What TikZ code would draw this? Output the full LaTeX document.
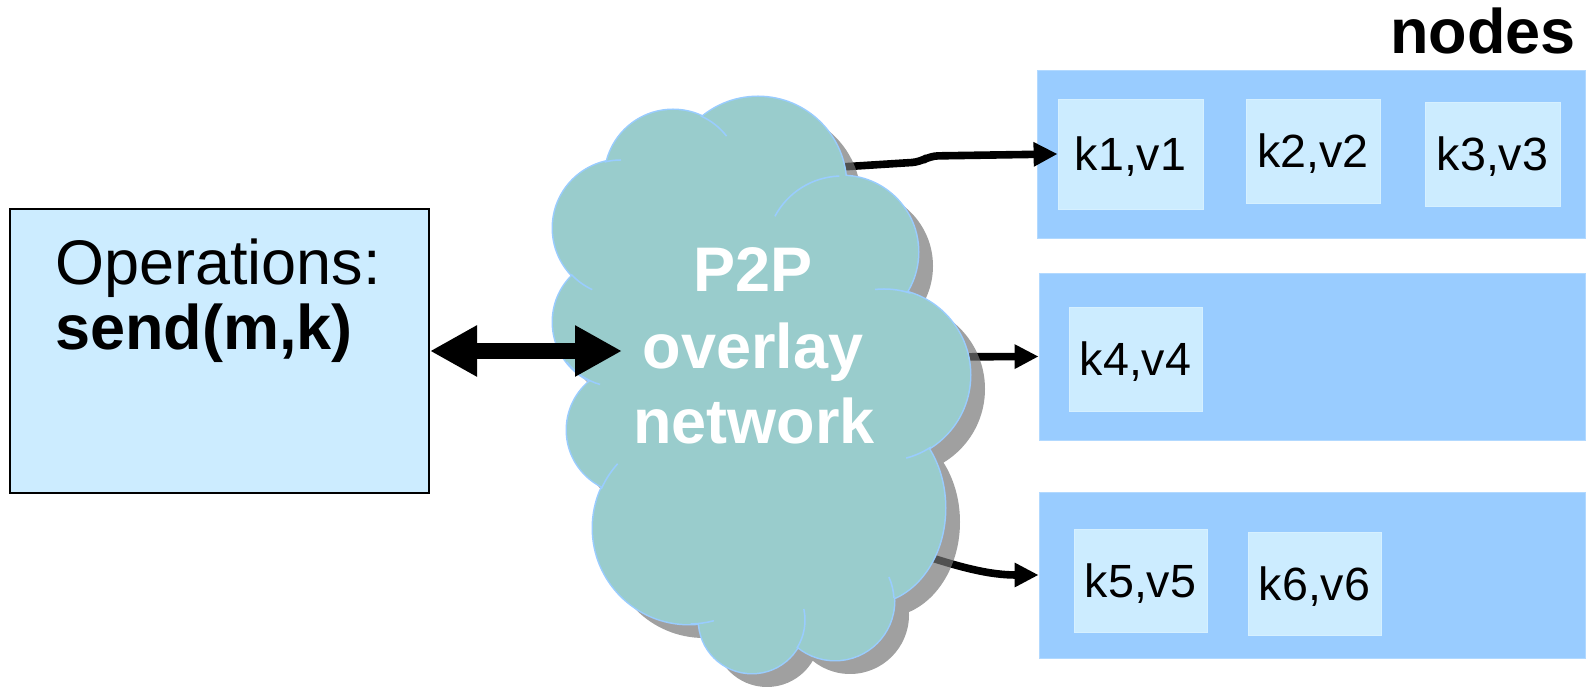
\documentclass[tikz,border=0pt]{standalone}
\usepackage{fontspec}
\setmainfont{Liberation Sans}
\usetikzlibrary{arrows.meta}

\definecolor{nodeblue}{HTML}{99CCFF}
\definecolor{paleblue}{HTML}{CCECFF}
\definecolor{cloudfill}{HTML}{99CCCC}
\definecolor{cloudline}{HTML}{99CCFF}

% cloud lobes: centre x / centre y / x radius / y radius
\def\cloudlobes{758/185/88/88, 673/178/68/68, 621/228/68/68, 618/322/65/65,
  630/430/63/63, 689/528/96/96, 752/620/53/53, 835/601/59/59,
  870/508/75/95, 884/375/86/86, 842/252/76/76,
  750/380/150/150, 775/510/90/90}

\tikzset{
  bigfont/.style={font=\fontsize{31.5}{31.5}\selectfont},
  bigbold/.style={font=\fontsize{31.5}{31.5}\selectfont\bfseries},
  plaintext/.style={inner sep=0pt, outer sep=0pt},
  opsbox/.style={draw=black, line width=1pt, fill=paleblue, inner sep=0pt},
  peerbox/.style={fill=nodeblue, draw=nodeblue!75!white, line width=0.4pt, inner sep=0pt},
  kvbox/.style={fill=paleblue, draw=paleblue!80!white, line width=0.4pt, inner sep=0pt,
    font=\fontsize{23.3}{23.3}\selectfont, text height=16.6pt, text depth=0pt},
  link/.style={draw=black, line width=3.8pt, -{Triangle[length=12pt,width=11.5pt]}},
  duplex/.style={draw=black, line width=8pt,
    {Triangle[length=23.5pt,width=24pt]}-{Triangle[length=23.5pt,width=24pt]}},
  innerarc/.style={draw=cloudline, line width=0.75pt},
}

\begin{document}
\begin{tikzpicture}[x=0.5pt, y=-0.5pt]
\useasboundingbox (0,0) rectangle (1587,688);

% client box with its operations
\node[opsbox, minimum width=209.5pt, minimum height=142pt] (ops) at (219.5,351) {};
\node[plaintext, bigfont, anchor=base west] (opstitle) at (55,285) {Operations:};
\node[plaintext, bigbold, anchor=base west] (opssend) at (55,350) {send(m,k)};

% peer nodes holding key/value pairs
\node[plaintext, bigbold, anchor=base east] (nodestitle) at (1576,54) {nodes};
\node[peerbox, minimum width=274pt, minimum height=84pt] (peerA) at (1311,154) {};
\node[peerbox, minimum width=273pt, minimum height=83.5pt] (peerB) at (1312,356.5) {};
\node[peerbox, minimum width=273pt, minimum height=83pt] (peerC) at (1312,575) {};

\node[kvbox, minimum width=72.5pt, minimum height=55pt] (k1) at (1130.5,154) {k1,v1};
\node[kvbox, minimum width=67pt, minimum height=52pt] (k2) at (1313,151) {k2,v2};
\node[kvbox, minimum width=67.5pt, minimum height=52pt] (k3) at (1492.5,154) {k3,v3};
\node[kvbox, minimum width=66.5pt, minimum height=52pt] (k4) at (1135.5,359) {k4,v4};
\node[kvbox, minimum width=66.5pt, minimum height=51.5pt] (k5) at (1140.5,580.5) {k5,v5};
\node[kvbox, minimum width=66.5pt, minimum height=51.5pt] (k6) at (1314.5,583.5) {k6,v6};

% routes leaving the overlay (they start under the cloud)
\coordinate (outA) at (825,168);
\coordinate (outB) at (930,357);
\coordinate (outC) at (905,549);
\draw[link, rounded corners=4] (outA) -- (920,162) -- (930,156) -- (k1.west);
\draw[link] (outB) -- (peerB.west);
\draw[link] (outC) .. controls (960,568) and (990,575) .. (peerC.west);

% cloud shadow
\fill[black!54, fill opacity=0.69, shift={(15,14)}]
  \foreach \cx/\cy/\rx/\ry in \cloudlobes {(\cx,\cy) ellipse[x radius=\rx, y radius=\ry]};
% cloud outline, then body filled over it so only the rim stays
\draw[cloudline, line width=1.5pt]
  \foreach \cx/\cy/\rx/\ry in \cloudlobes {(\cx,\cy) ellipse[x radius=\rx, y radius=\ry]};
\fill[cloudfill]
  \foreach \cx/\cy/\rx/\ry in \cloudlobes {(\cx,\cy) ellipse[x radius=\rx, y radius=\ry]};
% short lobe arcs inside the cloud
\foreach \cx/\cy/\r/\a/\b in {673/178/68/-66/-38, 842/252/76/208/268,
    884/375/86/-96/-72, 884/375/86/57/75, 835/601/59/-24/-3,
    752/620/53/-12/32, 689/528/96/75/89, 689/528/96/204/222,
    621/228/68/115/137, 618/322/65/106/142, 621/228/68/256/270}
  \draw[innerarc] (\cx,\cy) ++(\a:\r) arc[start angle=\a, end angle=\b, radius=\r];

\node[plaintext, bigbold, white, anchor=base] (cloudA) at (753,292) {P2P};
\node[plaintext, bigbold, white, anchor=base] (cloudB) at (753,369) {overlay};
\node[plaintext, bigbold, white, anchor=base] (cloudC) at (754,444) {network};

% request path between client and overlay
\coordinate (overlayin) at (622,351);
\draw[duplex] (ops.east) -- (overlayin);
\end{tikzpicture}
\end{document}
